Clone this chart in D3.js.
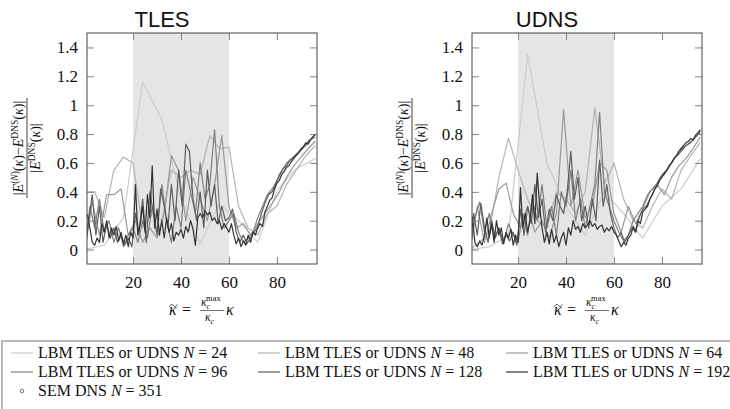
<!DOCTYPE html>
<html><head><meta charset="utf-8">
<script src="https://cdn.jsdelivr.net/npm/d3@7"></script>
<style>body{margin:0;background:#fff}svg{display:block}</style>
</head><body>
<svg id="c" width="730" height="409"></svg>
<script>
// ---- data ----
const resolutions = [24, 48, 64, 96, 128, 192];
const kappaCMax = 96;
const seriesColors = ["#cccccc", "#b3b3b3", "#999999", "#808080", "#5e5e5e", "#333333"];
const panelTitles = ["TLES", "UDNS"];
const xTicks = [20, 40, 60, 80];
const yTicks = [0, 0.2, 0.4, 0.6, 0.8, 1, 1.2, 1.4];
const yTickLabels = ["0", "0.2", "0.4", "0.6", "0.8", "1", "1.2", "1.4"];
const shadeRange = [20, 60];

const tles24 = [0, 0.03, 0.22, 1.16, 0.9, 0.35, 0.04, 0.32, 0.2, 0.05, 0.41, 0.56, 0.63];
const tles48 = [0.4, 0.4, 0.22, 0.55, 0.64, 0.6, 0.15, 0.25, 0.2, 0.55, 0.5, 0.55, 0.52, 0.79, 0.7, 0.71, 0.3, 0.15, 0.1, 0.25, 0.3, 0.45, 0.55, 0.65, 0.72];
const tles64 = [0, 0.33, 0.1, 0.38, 0.38, 0.42, 0.1, 0.2, 0.05, 0.15, 0.08, 0.25, 0.65, 0.55, 0.2, 0.5, 0.35, 0.2, 0.45, 0.79, 0.3, 0.15, 0.18, 0.1, 0.18, 0.25, 0.32, 0.4, 0.5, 0.58, 0.64, 0.7, 0.75];
const tles96 = [0, 0.3, 0.15, 0.35, 0.12, 0.2, 0.05, 0.15, 0.02, 0.1, 0.15, 0.05, 0.2, 0.08, 0.3, 0.12, 0.45, 0.2, 0.05, 0.3, 0.15, 0.55, 0.4, 0.25, 0.6, 0.35, 0.45, 0.83, 0.3, 0.15, 0.2, 0.25, 0.12, 0.05, 0.08, 0.12, 0.22, 0.3, 0.38, 0.42, 0.48, 0.54, 0.6, 0.63, 0.66, 0.69, 0.72, 0.76, 0.78];
const tles128 = [0, 0.2, 0.38, 0.1, 0.3, 0.05, 0.18, 0.08, 0.15, 0.05, 0.1, 0.03, 0.08, 0.02, 0.25, 0.12, 0.35, 0.05, 0.4, 0.25, 0.1, 0.42, 0.3, 0.15, 0.45, 0.2, 0.55, 0.3, 0.73, 0.68, 0.35, 0.2, 0.4, 0.15, 0.55, 0.3, 0.45, 0.18, 0.3, 0.2, 0.22, 0.28, 0.12, 0.05, 0.1, 0.04, 0.08, 0.12, 0.16, 0.25, 0.32, 0.38, 0.4, 0.45, 0.52, 0.56, 0.58, 0.62, 0.64, 0.66, 0.7, 0.72, 0.75, 0.77, 0.8];
const tles192 = [0.25, 0.24, 0.15, 0.05, 0.03, 0.08, 0.05, 0.18, 0.12, 0.2, 0.08, 0.15, 0.1, 0.16, 0.06, 0.12, 0.04, 0.1, 0.02, 0.12, 0.08, 0.45, 0.1, 0.18, 0.3, 0.12, 0.38, 0.22, 0.58, 0.15, 0.28, 0.1, 0.2, 0.08, 0.22, 0.12, 0.18, 0.06, 0.12, 0.1, 0.14, 0.08, 0.16, 0.12, 0.2, 0.14, 0.03, 0.22, 0.25, 0.22, 0.27, 0.24, 0.26, 0.2, 0.22, 0.18, 0.2, 0.14, 0.18, 0.15, 0.12, 0.18, 0.1, 0.04, 0.08, 0.02, 0.06, 0.03, 0.1, 0.05, 0.12, 0.1, 0.15, 0.18, 0.16, 0.26, 0.3, 0.34, 0.36, 0.42, 0.46, 0.48, 0.52, 0.54, 0.57, 0.58, 0.61, 0.63, 0.65, 0.67, 0.69, 0.71, 0.74, 0.73, 0.76, 0.78, 0.8];

const udns24 = [0, 0.02, 0.1, 1.35, 0.6, 0.3, 0.1, 0.4, 0.25, 0.08, 0.3, 0.42, 0.63];
const udns48 = [0, 0.05, 0.12, 0.5, 0.77, 0.55, 0.35, 0.2, 0.15, 0.4, 0.35, 0.25, 0.4, 0.98, 0.45, 0.6, 0.35, 0.2, 0.15, 0.3, 0.42, 0.35, 0.55, 0.65, 0.74];
const udns64 = [0, 0.3, 0.05, 0.25, 0.42, 0.46, 0.25, 0.15, 0.3, 0.12, 0.2, 0.08, 0.25, 0.97, 0.3, 0.55, 0.22, 0.3, 0.6, 0.55, 0.25, 0.12, 0.3, 0.18, 0.28, 0.4, 0.45, 0.38, 0.5, 0.58, 0.63, 0.7, 0.78];
const udns96 = [0, 0.22, 0.33, 0.12, 0.25, 0.08, 0.15, 0.05, 0.18, 0.1, 0.05, 0.25, 0.1, 0.35, 0.2, 0.45, 0.15, 0.3, 0.1, 0.4, 0.3, 0.55, 0.2, 0.35, 0.15, 0.3, 0.45, 0.95, 0.4, 0.3, 0.2, 0.12, 0.06, 0.1, 0.2, 0.25, 0.3, 0.38, 0.42, 0.46, 0.52, 0.55, 0.6, 0.65, 0.68, 0.72, 0.74, 0.78, 0.81];
const udns128 = [0, 0.25, 0.1, 0.32, 0.15, 0.05, 0.2, 0.08, 0.15, 0.04, 0.1, 0.06, 0.12, 0.03, 0.28, 0.1, 0.3, 0.18, 0.45, 0.22, 0.35, 0.12, 0.28, 0.2, 0.38, 0.3, 0.25, 0.4, 0.68, 0.35, 0.5, 0.2, 0.3, 0.15, 0.35, 0.2, 0.62, 0.3, 0.45, 0.25, 0.15, 0.08, 0.12, 0.05, 0.1, 0.15, 0.12, 0.22, 0.28, 0.3, 0.35, 0.4, 0.45, 0.5, 0.52, 0.56, 0.6, 0.64, 0.66, 0.7, 0.72, 0.74, 0.76, 0.79, 0.82];
const udns192 = [0.25, 0.22, 0.05, 0.02, 0.06, 0.03, 0.1, 0.22, 0.08, 0.18, 0.05, 0.2, 0.1, 0.15, 0.04, 0.12, 0.08, 0.14, 0.03, 0.1, 0.05, 0.43, 0.15, 0.25, 0.12, 0.2, 0.38, 0.18, 0.53, 0.3, 0.15, 0.05, 0.12, 0.04, 0.14, 0.05, 0.1, 0.02, 0.08, 0.12, 0.03, 0.15, 0.1, 0.2, 0.14, 0.16, 0.12, 0.18, 0.15, 0.17, 0.2, 0.16, 0.18, 0.14, 0.16, 0.17, 0.12, 0.15, 0.13, 0.16, 0.12, 0.1, 0.06, 0.02, 0.05, 0.03, 0.08, 0.1, 0.16, 0.12, 0.2, 0.18, 0.26, 0.28, 0.3, 0.35, 0.38, 0.42, 0.44, 0.48, 0.5, 0.53, 0.55, 0.58, 0.6, 0.63, 0.65, 0.68, 0.7, 0.72, 0.74, 0.75, 0.77, 0.76, 0.79, 0.81, 0.83];

const panelSeries = [
  [tles24, tles48, tles64, tles96, tles128, tles192],
  [udns24, udns48, udns64, udns96, udns128, udns192]
];

// ---- drawing ----
const svg = d3.select("#c");
const W = 230, H = 231;
const panelLeft = [87, 472];
const plotTop = 33;
const x = d3.scaleLinear().domain([0.8, 96.7]).range([0, W]);
const y = d3.scaleLinear().domain([-0.1, 1.5]).range([H, 0]);
const SERIF = '"Liberation Serif", "Times New Roman", serif';

svg.append("defs").append("clipPath").attr("id", "clip")
  .append("rect").attr("width", W).attr("height", H);

function txt(parent, xx, yy, size, opts) {
  const t = parent.append("text").attr("x", xx).attr("y", yy)
    .style("font-family", SERIF).style("font-size", size + "px").attr("fill", "#111");
  if (opts) Object.entries(opts).forEach(([k, v]) => t.attr(k, v));
  return t;
}
function span(t, s, size, opts) {
  const ts = t.append("tspan").text(s);
  if (size) ts.style("font-size", size + "px");
  if (opts) Object.entries(opts).forEach(([k, v]) => ts.attr(k, v));
  return ts;
}

panelSeries.forEach((series, p) => {
  const g = svg.append("g").attr("transform", `translate(${panelLeft[p]},${plotTop})`);
  g.append("rect").attr("x", x(shadeRange[0])).attr("width", x(shadeRange[1]) - x(shadeRange[0]))
    .attr("y", 0).attr("height", H).attr("fill", "#e5e5e5");
  const lg = g.append("g").attr("clip-path", "url(#clip)");
  series.forEach((vals, s) => {
    const step = kappaCMax / (resolutions[s] / 2);
    const pts = vals.map((v, k) => [k * step, v]);
    lg.append("path").datum(pts)
      .attr("d", d3.line().x(d => x(d[0])).y(d => y(d[1])))
      .attr("fill", "none").attr("stroke", seriesColors[s]).attr("stroke-width", 1.2)
      .attr("stroke-linejoin", "round");
  });
  const yl = g.append("g").call(d3.axisLeft(y).tickValues(yTicks).tickSize(-7).tickPadding(9)
    .tickFormat((d, i) => yTickLabels[i]));
  const yr = g.append("g").attr("transform", `translate(${W},0)`).call(d3.axisRight(y).tickValues(yTicks).tickSize(-7).tickFormat(""));
  const xb = g.append("g").attr("transform", `translate(0,${H})`).call(d3.axisBottom(x).tickValues(xTicks).tickSize(-7).tickPadding(12));
  const xt = g.append("g").call(d3.axisTop(x).tickValues(xTicks).tickSize(-7).tickFormat(""));
  [yl, yr, xb, xt].forEach(a => {
    a.select(".domain").remove();
    a.selectAll(".tick line").attr("stroke", "#777").attr("stroke-width", 0.9);
    a.selectAll("text").style("font-family", SERIF).style("font-size", "17px").attr("fill", "#111");
  });
  g.append("rect").attr("width", W).attr("height", H).attr("fill", "none").attr("stroke", "#444").attr("stroke-width", 1);

  svg.append("text").attr("x", panelLeft[p] + 75).attr("y", 27).attr("text-anchor", "middle")
    .style("font-family", '"Liberation Sans", Arial, sans-serif').style("font-size", "22px").attr("fill", "#111")
    .text(panelTitles[p]);

  // y label (rotated fraction)
  const yg = svg.append("g").attr("transform", `translate(${panelLeft[p] - 60},148) rotate(-90)`);
  const num = txt(yg, 0, -4, 14, {"text-anchor": "middle"});
  span(num, "|");
  span(num, "E", null, {"font-style": "italic"});
  span(num, "(", 9.5, {"dy": -5});
  span(num, "N", 9.5, {"font-style": "italic"});
  span(num, ")", 9.5);
  span(num, "(", 14, {"dy": 5});
  span(num, "κ", 14, {"font-style": "italic"});
  span(num, ")−", 14);
  span(num, "E", 14, {"font-style": "italic"});
  span(num, "DNS", 9.5, {"dy": -5});
  span(num, "(", 14, {"dy": 5});
  span(num, "κ", 14, {"font-style": "italic"});
  span(num, ")|", 14);
  yg.append("line").attr("x1", -50).attr("x2", 50).attr("y1", 0).attr("y2", 0).attr("stroke", "#111").attr("stroke-width", 0.8);
  const den = txt(yg, 0, 13, 14, {"text-anchor": "middle"});
  span(den, "|");
  span(den, "E", null, {"font-style": "italic"});
  span(den, "DNS", 9.5, {"dy": -5});
  span(den, "(", 14, {"dy": 5});
  span(den, "κ", 14, {"font-style": "italic"});
  span(den, ")|", 14);

  // x label
  const cx = panelLeft[p] + W / 2;
  txt(svg, cx - 33, 315, 16, {"font-style": "italic"}).text("κ");
  const tp = d3.path();
  tp.moveTo(cx - 32.5, 306.5);
  tp.bezierCurveTo(cx - 31, 304, cx - 29.5, 304, cx - 28.5, 305.5);
  tp.bezierCurveTo(cx - 27.5, 307, cx - 26, 307, cx - 25, 304.5);
  svg.append("path").attr("d", tp.toString()).attr("fill", "none").attr("stroke", "#111").attr("stroke-width", 0.8);
  txt(svg, cx - 20, 315, 16).text("=");
  const nt = txt(svg, cx - 1, 306, 11.5);
  span(nt, "κ", null, {"font-style": "italic"});
  span(nt, "c", 8, {"font-style": "italic", "dy": 3});
  span(nt, "max", 8.5, {"dx": -4, "dy": -8});
  svg.append("line").attr("x1", cx - 2).attr("x2", cx + 22).attr("y1", 310.5).attr("y2", 310.5).attr("stroke", "#111").attr("stroke-width", 0.6);
  const dt = txt(svg, cx + 3, 321, 11.5);
  span(dt, "κ", null, {"font-style": "italic"});
  span(dt, "c", 8, {"font-style": "italic", "dy": 3});
  txt(svg, cx + 24, 315, 16, {"font-style": "italic"}).text("κ");
});

// ---- legend ----
const leg = svg.append("g");
leg.append("rect").attr("x", 2).attr("y", 341).attr("width", 760).attr("height", 90)
  .attr("fill", "#fff").attr("stroke", "#777").attr("stroke-width", 1);
const colX = [11, 258, 506];
const rowY = [358, 377, 396];
resolutions.forEach((n, i) => {
  const cxl = colX[i % 3], cy = rowY[Math.floor(i / 3)];
  leg.append("line").attr("x1", cxl).attr("x2", cxl + 22).attr("y1", cy - 5).attr("y2", cy - 5)
    .attr("stroke", seriesColors[i]).attr("stroke-width", 1.2);
  const t = txt(leg, cxl + 27, cy, 16);
  span(t, "LBM TLES or UDNS ");
  span(t, "N", null, {"font-style": "italic"});
  span(t, " = " + n);
});
leg.append("circle").attr("cx", colX[0] + 11).attr("cy", rowY[2] - 5).attr("r", 1.8)
  .attr("fill", "none").attr("stroke", "#555").attr("stroke-width", 0.8);
const st = txt(leg, colX[0] + 27, rowY[2], 16);
span(st, "SEM DNS ");
span(st, "N", null, {"font-style": "italic"});
span(st, " = 351");
</script>
</body></html>
